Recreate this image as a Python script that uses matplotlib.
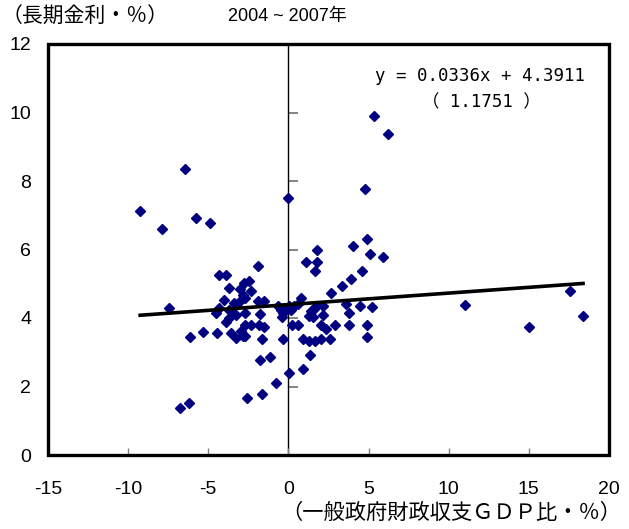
import numpy as np
import matplotlib
matplotlib.use("Agg")
import matplotlib.pyplot as plt
from matplotlib.patches import Rectangle

plt.rcParams['font.family'] = ['Liberation Sans', 'Noto Sans CJK JP', 'DejaVu Sans']

# general government balance (% of GDP) vs long-term rate (%), 2004-2007
balance = [
    -9.25, -6.44, -7.90, -5.78, -4.89, -0.02, 5.32, 6.24, 4.78,
    4.90, 4.01, 5.12, 5.90, 1.79, 1.12, 1.79, 1.67, 4.57, 3.90, 3.33, 2.66, 0.77,
    -1.87, -4.35, -3.89, -2.45, -2.79, -3.68, -3.02, -2.33, -2.85, -3.99, -3.40,
    -3.06, -2.70, -1.90, -1.54, -7.47, -4.35, -4.51, -3.68, -3.47, -3.26, -3.68,
    -3.89, -2.74, -1.77, -2.74, -2.33, -1.81, -1.54,
    -0.67, -0.46, -0.36, -0.42, -0.25, 0.06, 0.37, 0.58, 0.17,
    1.42, 1.62, 1.73, 2.14, 1.31, 1.52, 2.14, 3.57, 3.78, 4.47, 5.24,
    0.20, 0.58, 2.04, 2.35, 2.91, 3.80, 4.91, 4.91,
    0.89, 1.31, 1.67, 2.04, 2.60, -0.31,
    -6.11, -5.35, -4.45, -3.57, -3.26, -2.85, -2.95, -2.74, -1.66,
    -1.77, -1.12, 0.02, 0.89, 1.34, -0.77, -1.66, -2.56, -6.22, -6.77,
    11.04, 15.03, 17.59, 18.38,
]
rate = [
    7.13, 8.34, 6.61, 6.93, 6.77, 7.50, 9.89, 9.38, 7.77,
    6.30, 6.10, 5.88, 5.78, 5.99, 5.64, 5.64, 5.36, 5.36, 5.15, 4.94, 4.73, 4.58,
    5.52, 5.26, 5.26, 5.07, 5.01, 4.89, 4.86, 4.79, 4.66, 4.54, 4.44,
    4.48, 4.57, 4.50, 4.50, 4.29, 4.29, 4.15, 4.24, 4.14, 4.09, 3.99,
    3.89, 4.14, 4.12, 3.80, 3.80, 3.80, 3.75,
    4.34, 4.24, 4.14, 4.04, 4.29, 4.34, 4.34, 4.41, 4.24,
    4.19, 4.26, 4.34, 4.34, 4.06, 4.04, 4.10, 4.40, 4.16, 4.34, 4.33,
    3.80, 3.80, 3.80, 3.69, 3.80, 3.80, 3.80, 3.44,
    3.38, 3.33, 3.33, 3.38, 3.38, 3.39,
    3.44, 3.59, 3.55, 3.56, 3.41, 3.46, 3.61, 3.46, 3.39,
    2.77, 2.87, 2.39, 2.50, 2.92, 2.09, 1.77, 1.66, 1.51, 1.36,
    4.37, 3.74, 4.79, 4.06,
]
slope = 0.0336
intercept = 4.3911
t_value = 1.1751

xticks = [-15, -10, -5, 0, 5, 10, 15, 20]
yticks = [0, 2, 4, 6, 8, 10, 12]

x = np.array(balance)
y = np.array(rate)

fig = plt.figure(figsize=(6.29, 5.29), dpi=100)
ax = fig.add_axes([48 / 629, 1 - 455 / 529, 561 / 629, 411 / 529])

ax.plot(x, y, linestyle='none', marker='D', markersize=4.8,
        color='#000080', zorder=3)

xl = np.array([x.min(), x.max()])
ax.plot(xl, slope * xl + intercept, color='black', lw=2.6, zorder=4)

ax.set_xlim(-15, 20)
ax.set_ylim(0, 12)
ax.set_xticks(xticks)
ax.set_yticks(yticks)
ax.set_xticklabels([str(v) for v in xticks])
ax.set_yticklabels([str(v) for v in yticks])

for s in ax.spines.values():
    s.set_visible(False)
ax.add_patch(Rectangle((0, 0), 1, 1, transform=ax.transAxes, fill=False,
                       lw=2.4, edgecolor='black', zorder=5, clip_on=False))

ax.tick_params(axis='x', direction='in', length=5, width=1, color='#808080',
               labelsize=14, pad=19)
ax.tick_params(axis='y', length=0, labelsize=14, pad=12)

# vertical axis crossing at x = 0 with its tick marks
sec = ax.secondary_yaxis((0 - (-15)) / 35)
sec.spines['left'].set_linewidth(1)
sec.set_yticks(yticks[1:-1])
sec.tick_params(axis='y', direction='in', length=7, width=1.2,
                color='#707070', labelleft=False)

ax.text(0.957, 0.922, 'y = %.4fx + %.4f' % (slope, intercept),
        transform=ax.transAxes, ha='right', va='center', fontsize=12.5,
        family=['DejaVu Sans Mono', 'Noto Sans CJK JP'])
ax.text(0.772, 0.859, '（ %.4f ）' % t_value,
        transform=ax.transAxes, ha='center', va='center', fontsize=12.5,
        family=['DejaVu Sans Mono', 'Noto Sans CJK JP'])

fig.text(2 / 629, 1 - 17 / 529, '（長期金利・％）', ha='left', va='center',
         fontsize=15)
fig.text(228 / 629, 1 - 17 / 529, '2004 ~ 2007年', ha='left', va='center',
         fontsize=13)
fig.text(621 / 629, 1 - 513 / 529, '（一般政府財政収支ＧＤＰ比・％）', ha='right',
         va='center', fontsize=15.3)

fig.savefig('out.png', dpi=100)
